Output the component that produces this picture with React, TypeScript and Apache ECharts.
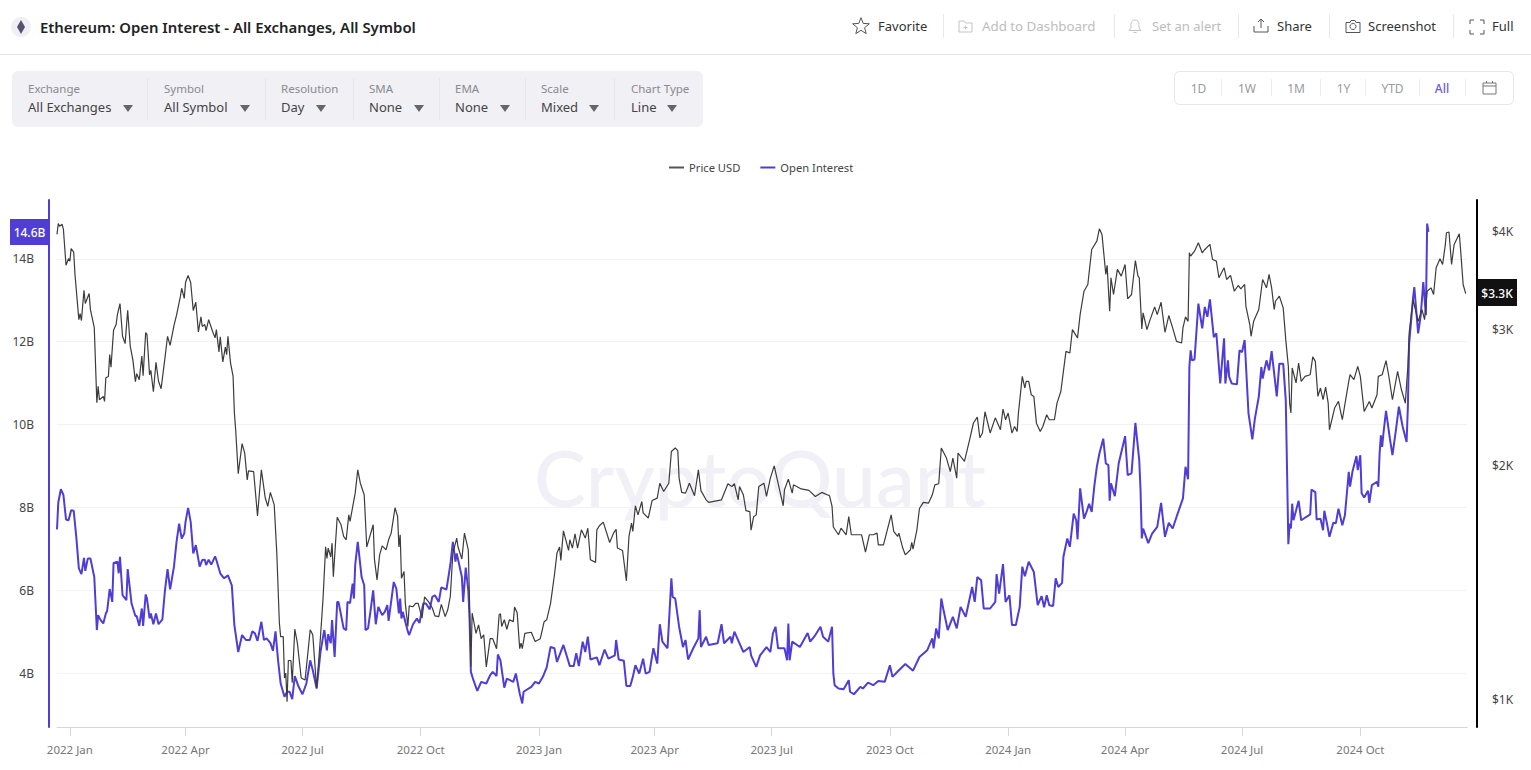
import React, { useEffect, useRef } from "react";
import * as echarts from "echarts";

const START = Date.UTC(2021, 11, 22);
const DAY = 86400000;
const END_DAY = 1097;

const priceDays = [0,1,2,4,5,7,9,10,11,13,14,17,18,19,21,22,25,26,29,31,32,33,36,37,38,40,41,42,44,46,47,49,51,53,55,57,59,61,62,64,66,67,69,70,72,73,75,77,79,81,84,86,88,91,93,96,97,99,100,102,104,106,108,110,112,113,115,116,118,121,123,124,126,127,129,131,132,133,135,137,138,139,141,144,146,148,149,153,156,159,162,164,166,169,171,173,174,176,177,178,179,180,182,183,185,187,190,193,195,197,199,202,205,207,209,210,211,213,214,215,218,221,223,225,227,228,230,232,234,236,239,241,243,246,247,249,251,253,256,258,260,263,265,266,267,268,270,271,273,274,277,279,281,284,286,289,292,294,297,299,302,304,306,308,311,312,315,317,320,321,322,323,326,328,330,332,334,337,339,342,344,345,346,348,350,352,355,356,358,360,361,362,364,369,372,376,379,381,384,387,389,391,392,394,398,399,401,403,405,408,411,413,415,419,420,422,425,430,433,435,436,440,443,445,447,448,450,452,455,456,460,463,467,469,472,476,478,481,483,484,486,489,492,496,499,501,505,507,517,522,525,527,530,531,534,536,539,540,542,544,546,550,552,555,558,561,565,566,569,572,573,579,585,590,595,601,603,604,608,610,614,616,618,626,629,632,635,638,639,643,646,649,651,654,655,658,660,664,665,666,669,671,674,678,681,683,686,688,692,695,697,700,701,706,710,713,716,718,720,722,726,730,734,736,738,740,743,745,747,748,751,753,754,756,758,760,762,765,767,770,772,776,778,781,783,785,788,790,794,796,799,802,805,809,811,813,816,817,819,820,822,825,828,831,833,836,839,841,842,844,845,848,850,854,856,859,862,865,868,871,875,876,878,880,881,882,885,888,891,893,897,899,902,904,908,910,913,916,919,921,924,925,928,929,931,935,938,941,943,945,947,948,951,954,956,958,959,960,961,964,966,968,971,975,977,979,981,983,985,987,989,990,994,997,1000,1005,1006,1009,1012,1014,1017,1021,1023,1027,1028,1031,1034,1036,1039,1043,1046,1049,1051,1052,1055,1059,1062,1064,1066,1069,1071,1073,1076,1078,1080,1081,1083,1085,1087,1091,1092,1094,1096];
const priceValues = [3970,4100,4068,4090,4029,3623,3697,3667,3808,3767,3526,3085,3140,3076,3365,3235,3332,3178,3013,2411,2531,2433,2457,2421,2597,2607,2781,2679,2989,3040,3131,3235,2936,2873,3172,2850,2740,2567,2628,2582,2769,2613,2969,2951,2620,2654,2491,2718,2570,2514,2754,2936,2858,3031,3125,3304,3385,3284,3443,3516,3443,3169,3247,2974,3110,3022,3040,2986,3085,2980,2922,2995,2803,2931,2722,2844,2781,2936,2714,2607,2341,2226,1954,2136,2079,1919,1971,1966,1725,1977,1820,1774,1849,1782,1546,1257,1206,1206,1067,1083,995,1124,1124,1052,1233,1184,1067,1061,1142,1231,1213,1035,1206,1352,1574,1521,1568,1527,1591,1440,1718,1680,1623,1607,1730,1697,1770,1845,1977,1900,1836,1573,1615,1680,1515,1427,1537,1578,1560,1607,1639,1767,1721,1573,1631,1434,1463,1331,1243,1321,1318,1331,1331,1274,1357,1338,1313,1283,1280,1327,1280,1306,1359,1545,1615,1573,1518,1639,1560,1331,1103,1293,1218,1249,1199,1213,1103,1199,1199,1164,1287,1291,1243,1268,1233,1268,1261,1317,1295,1164,1183,1164,1218,1222,1189,1199,1261,1268,1331,1448,1545,1573,1512,1650,1557,1607,1568,1636,1568,1655,1615,1663,1515,1503,1655,1675,1693,1594,1639,1658,1568,1557,1423,1623,1688,1647,1777,1730,1800,1740,1714,1805,1818,1900,1854,1900,2087,2109,2093,1929,1849,1845,1900,1831,1977,1859,1809,1795,1809,1897,1881,1897,1809,1881,1836,1752,1747,1653,1721,1730,1881,1900,1827,1929,2000,1900,1777,1864,1923,1845,1891,1868,1860,1827,1849,1831,1774,1669,1631,1663,1631,1721,1631,1631,1549,1631,1631,1639,1583,1583,1655,1730,1647,1623,1639,1568,1537,1560,1595,1563,1655,1763,1795,1791,1836,1891,1897,2109,2047,1966,2047,1929,2078,2027,2161,2271,2311,2174,2205,2348,2205,2306,2226,2367,2293,2339,2204,2248,2215,2339,2607,2519,2569,2569,2469,2457,2270,2215,2248,2327,2293,2293,2409,2493,2646,2808,2794,2995,2922,3131,3355,3423,3797,3892,4037,3970,3526,3622,3162,3492,3323,3579,3509,3632,3281,3323,3675,3509,3492,3001,3147,2995,3069,3203,3131,3247,2971,3122,3010,2892,2878,3010,3110,3069,3760,3723,3778,3873,3760,3797,3854,3686,3668,3492,3597,3474,3516,3355,3413,3379,3423,3209,3040,2936,3069,3178,3474,3389,3526,3389,3178,3257,3307,3194,2907,2686,2409,2339,2673,2557,2713,2569,2607,2620,2762,2726,2457,2519,2433,2526,2409,2226,2374,2421,2293,2569,2620,2582,2686,2607,2350,2421,2374,2469,2607,2620,2732,2620,2433,2646,2506,2409,2686,2965,3274,3069,3178,3085,3355,3389,3323,3597,3694,3632,3835,3990,3998,3632,3854,3978,3797,3423,3332];

const oiDays = [0,1,3,5,7,9,11,13,15,17,19,21,22,24,26,29,31,32,34,36,38,39,41,43,44,47,48,49,51,54,55,58,61,62,64,66,67,69,70,72,73,75,77,79,82,84,86,88,91,93,95,97,99,100,102,104,106,108,111,113,115,116,118,120,123,124,127,130,133,136,138,141,144,147,150,152,154,156,159,161,163,166,168,170,172,174,177,179,181,183,185,188,191,194,197,199,202,205,207,208,210,211,213,214,216,218,219,223,225,226,228,230,231,232,234,237,239,240,242,244,246,248,250,253,255,257,258,262,264,266,267,268,269,273,274,277,280,282,285,287,290,292,294,297,299,303,306,308,310,311,315,316,318,320,321,322,324,327,330,334,337,339,342,343,345,348,350,355,357,360,362,363,369,372,375,378,381,384,387,389,394,399,402,404,406,409,411,413,415,420,422,426,429,434,435,437,441,443,446,448,450,453,456,458,461,464,467,469,471,475,478,479,481,484,487,489,491,495,499,500,501,505,507,514,517,519,524,525,527,531,534,539,540,544,547,552,555,557,559,561,566,568,569,570,572,578,584,586,590,594,596,600,603,604,605,608,612,616,617,620,625,627,631,635,639,644,648,650,655,660,666,671,677,681,682,684,686,688,690,693,697,700,703,707,712,714,716,719,721,726,730,731,733,736,738,741,743,746,749,751,753,756,760,763,766,768,770,772,775,777,779,782,783,786,788,791,793,794,796,799,801,803,805,807,809,811,814,816,818,819,820,823,826,831,833,836,839,842,843,844,845,849,852,856,859,862,865,868,871,876,878,880,881,882,883,885,888,891,893,895,897,900,902,905,908,909,911,912,914,918,920,922,924,927,930,932,935,937,938,941,943,945,949,951,954,956,957,958,959,960,961,962,966,968,975,976,979,980,983,985,986,988,990,993,995,997,1000,1002,1004,1005,1006,1008,1011,1012,1014,1015,1017,1020,1021,1023,1027,1028,1029,1030,1031,1032,1034,1037,1039,1042,1044,1047,1050,1051,1052,1055,1056,1059,1061,1063,1065,1066,1067];
const oiValues = [7.47,8.12,8.44,8.30,7.71,7.69,7.93,7.92,7.29,6.53,6.39,6.78,6.47,6.77,6.77,6.32,5.04,5.40,5.28,5.20,5.44,5.50,6.03,5.72,6.66,6.69,6.41,6.81,5.88,5.76,6.51,5.68,5.38,5.38,5.14,5.56,5.14,5.90,5.80,5.32,5.44,5.18,5.44,5.18,5.30,6.00,6.51,6.02,6.57,7.17,7.61,7.25,7.37,7.65,7.99,7.65,6.89,7.09,6.57,6.73,6.74,6.61,6.74,6.62,6.82,6.73,6.41,6.29,6.36,6.12,5.16,4.51,4.92,4.80,4.80,5.01,4.96,4.78,5.24,4.80,4.84,4.73,4.54,5.01,4.31,3.75,3.43,3.55,3.55,3.37,3.93,3.67,3.49,3.75,4.31,4.07,3.63,4.51,4.88,5.04,4.55,4.94,4.72,5.28,4.39,5.72,5.72,5.08,5.04,5.72,5.69,6.16,5.80,6.61,7.17,6.32,6.12,5.04,5.08,5.52,6.00,5.18,5.60,5.40,5.48,5.64,5.26,6.20,6.04,5.44,5.80,5.32,5.48,5.00,4.92,5.18,5.32,5.21,5.68,5.68,5.54,5.84,5.88,5.72,6.07,6.02,6.61,7.17,6.69,6.89,6.32,5.72,6.55,6.00,5.28,4.03,3.83,3.57,3.79,3.75,3.95,4.03,3.93,4.45,4.31,3.65,3.87,3.79,3.99,3.51,3.27,3.55,3.67,3.79,3.75,3.91,4.14,4.63,4.60,4.27,4.68,4.17,4.17,4.48,4.17,4.76,4.51,4.88,4.33,4.38,4.19,4.57,4.35,4.43,4.80,4.33,4.30,3.69,3.69,3.91,4.19,3.99,4.35,3.99,4.03,4.60,4.23,5.18,4.76,4.60,6.29,5.84,5.80,5.12,4.63,4.80,4.33,4.60,4.84,5.52,4.63,4.88,4.68,4.72,5.18,4.72,4.88,4.72,5.00,4.72,4.51,4.63,4.43,4.15,4.43,4.63,4.51,4.96,5.12,4.60,4.60,4.31,5.20,4.31,4.76,4.63,4.97,4.76,4.92,5.12,4.88,4.76,5.12,3.99,3.71,3.63,3.61,3.83,3.55,3.49,3.67,3.63,3.77,3.71,3.81,3.79,4.19,3.91,4.07,4.22,4.06,4.39,4.55,4.84,4.60,5.08,4.84,5.80,5.48,5.04,5.36,5.08,5.60,5.36,6.08,5.72,6.32,6.24,5.56,5.56,5.72,6.39,5.92,6.63,5.72,5.88,5.16,5.16,5.60,6.57,6.34,6.69,6.44,5.64,5.86,5.59,5.88,5.64,5.62,6.29,6.08,6.18,6.81,7.25,7.05,7.85,7.69,7.23,8.46,7.73,7.89,8.09,7.89,8.50,8.98,9.30,9.66,9.06,9.02,8.16,8.58,8.27,9.06,9.72,8.78,8.82,10.04,9.14,8.42,7.25,7.49,7.14,7.37,7.53,8.11,7.29,7.63,7.49,7.77,8.22,8.98,8.68,11.39,11.79,11.55,11.57,12.92,12.32,12.84,12.60,13.02,12.11,12.20,10.99,12.08,10.99,11.55,11.15,10.99,10.97,11.79,11.75,12.04,10.27,9.64,10.15,10.67,11.39,11.11,11.55,11.31,11.77,10.68,11.47,11.47,10.59,8.90,7.11,7.61,7.49,8.09,7.69,8.16,7.69,7.83,8.43,8.37,7.71,7.73,7.45,7.92,7.62,7.29,7.63,7.62,7.97,7.57,7.81,8.50,8.86,8.50,8.88,9.24,8.90,9.26,8.34,8.24,8.40,8.11,8.54,8.62,8.50,9.30,9.74,9.46,9.79,10.33,9.66,9.26,9.94,10.43,9.94,9.58,10.43,11.96,13.04,13.32,12.20,12.64,13.44,12.64,14.85,14.65];

const quarterTicks = [[2022,0],[2022,3],[2022,6],[2022,9],[2023,0],[2023,3],[2023,6],[2023,9],[2024,0],[2024,3],[2024,6],[2024,9]];
const monthNames = ["Jan","Feb","Mar","Apr","May","Jun","Jul","Aug","Sep","Oct","Nov","Dec"];
const oiTicks = [4, 6, 8, 10, 12, 14];
const priceTicks = [1000, 2000, 3000, 4000];

const filterLabels = ["Exchange","Symbol","Resolution","SMA","EMA","Scale","Chart Type"];
const filterValues = ["All Exchanges","All Symbol","Day","None","None","Mixed","Line"];
const rangeLabels = ["1D","1W","1M","1Y","YTD","All"];

const FONT = "'Noto Sans', sans-serif";
const PURPLE = "#4f3dd6";

echarts.graphic.registerShape("bellIcon", echarts.graphic.extendPath("M7 1C4.5 1 3 3 3 5.5V9L1 11.5H13L11 9V5.5C11 3 9.5 1 7 1ZM5.5 13.5H8.5", {}));
echarts.graphic.registerShape("shareIcon", echarts.graphic.extendPath("M1 8V14H15V8M8 10V1M5 4L8 1L11 4", {}));
echarts.graphic.registerShape("cameraIcon", echarts.graphic.extendPath("M1 3.5H5L6 1.5H10L11 3.5H15V13.5H1Z", {}));
echarts.graphic.registerShape("fullIcon", echarts.graphic.extendPath("M1 5V1H5M11 1H15V5M15 11V15H11M5 15H1V11", {}));
echarts.graphic.registerShape("folderIcon", echarts.graphic.extendPath("M1 2H6L7.5 4H14V13H1ZM7.5 6.5V10.5M5.5 8.5H9.5", {}));
echarts.graphic.registerShape("calIcon", echarts.graphic.extendPath("M1 3H14V14H1ZM1 6H14M4.5 1V3M10.5 1V3", {}));

const txt = (x: number, y: number, text: string, fontSize: number, fill: string, extra: any = {}) => ({
  type: "text", x, y, silent: true,
  style: { text, fontSize, fill, fontFamily: FONT, verticalAlign: "middle", ...extra },
});
const vline = (x: number, y1: number, y2: number, stroke: string) => ({
  type: "line", shape: { x1: x, y1, x2: x, y2 }, style: { stroke, lineWidth: 1 }, silent: true,
});
const tri = (cx: number, cy: number) => ({
  type: "polygon", shape: { points: [[cx - 5, cy - 3], [cx + 5, cy - 3], [cx, cy + 4]] }, style: { fill: "#666" }, silent: true,
});
const icon = (type: string, x: number, y: number, stroke: string) => ({
  type, x, y, style: { stroke, fill: "none", lineWidth: 1 }, silent: true,
});

function buildGraphics() {
  const g: any[] = [];
  g.push({ type: "text", x: 760, y: 477, z: -1, silent: true, style: { text: "CryptoQuant", fontSize: 78, fill: "#f0f0f6", fontFamily: "Lato, sans-serif", align: "center", verticalAlign: "middle", fontWeight: 500 } });
  g.push({ type: "line", shape: { x1: 0, y1: 54.5, x2: 1531, y2: 54.5 }, style: { stroke: "#e4e4e4", lineWidth: 1 }, silent: true });
  g.push({ type: "circle", shape: { cx: 21, cy: 27, r: 10 }, style: { fill: "#f0f0f4" }, silent: true });
  g.push({ type: "polygon", shape: { points: [[21, 20], [25, 27], [21, 34], [17, 27]] }, style: { fill: "#53536f" }, silent: true });
  g.push(txt(40, 26.5, "Ethereum: Open Interest - All Exchanges, All Symbol", 14.9, "#222", { fontWeight: 600 }));

  const star: number[][] = [];
  for (let i = 0; i < 10; i++) {
    const r = i % 2 ? 3.8 : 8.8;
    const a = -Math.PI / 2 + (i * Math.PI) / 5;
    star.push([861 + r * Math.cos(a), 26.5 + r * Math.sin(a)]);
  }
  g.push({ type: "polygon", shape: { points: star }, style: { stroke: "#555", fill: "none", lineWidth: 1 }, silent: true });
  g.push(txt(878, 26, "Favorite", 13, "#333"));
  g.push(vline(943.5, 14, 38, "#e8e8e8"));
  g.push(icon("folderIcon", 958, 19, "#c4c4c4"));
  g.push(txt(982, 26, "Add to Dashboard", 13.3, "#bdbdbd"));
  g.push(vline(1114.5, 14, 38, "#e8e8e8"));
  g.push(icon("bellIcon", 1128, 19, "#c4c4c4"));
  g.push(txt(1152, 26, "Set an alert", 13, "#bdbdbd"));
  g.push(vline(1238.5, 14, 38, "#e8e8e8"));
  g.push(icon("shareIcon", 1253, 18, "#555"));
  g.push(txt(1277, 26, "Share", 13, "#333"));
  g.push(vline(1329.5, 14, 38, "#e8e8e8"));
  g.push(icon("cameraIcon", 1345, 19, "#555"));
  g.push({ type: "circle", shape: { cx: 1353, cy: 26.5, r: 3 }, style: { stroke: "#555", fill: "none" }, silent: true });
  g.push(txt(1368, 26, "Screenshot", 13, "#333"));
  g.push(vline(1453.5, 14, 38, "#e8e8e8"));
  g.push(icon("fullIcon", 1469, 19, "#555"));
  g.push(txt(1492, 26, "Full", 13, "#333"));

  g.push({ type: "rect", shape: { x: 12, y: 71, width: 691, height: 56, r: 6 }, style: { fill: "#f0f0f5" }, silent: true });
  const colX = [28, 164, 281, 369, 455, 541, 631];
  const sepX = [147, 265, 353, 439, 525, 614];
  const arrowX = [128, 245, 321, 419, 505, 594, 672];
  filterLabels.forEach((l, i) => {
    g.push(txt(colX[i], 88, l, 11.5, "#8a8a90"));
    g.push(txt(colX[i], 107, filterValues[i], 13, "#444"));
    g.push(tri(arrowX[i], 108));
  });
  sepX.forEach((x) => g.push(vline(x + 0.5, 78, 120, "#e7e7ec")));

  g.push({ type: "rect", shape: { x: 1174.5, y: 71.5, width: 339, height: 33, r: 5 }, style: { fill: "#fff", stroke: "#e8e8ec", lineWidth: 1 }, silent: true });
  const rangeX = [1198.5, 1247, 1296, 1343.5, 1392.5, 1442];
  rangeLabels.forEach((l, i) => {
    g.push(txt(rangeX[i], 88, l, 12, l === "All" ? "#6a5cd8" : "#9a9aa0", { align: "center", fontWeight: l === "All" ? 500 : 400 }));
  });
  [1221, 1271, 1320, 1365, 1419, 1465].forEach((x) => g.push(vline(x + 0.5, 79, 96, "#ececf0")));
  g.push(icon("calIcon", 1482, 80, "#777"));

  g.push({ type: "rect", shape: { x: 10, y: 219, width: 39, height: 26 }, style: { fill: PURPLE }, silent: true });
  g.push(txt(29.5, 232, "14.6B", 12, "#fff", { align: "center", fontWeight: 500 }));
  g.push({ type: "rect", shape: { x: 1477, y: 279, width: 40, height: 27 }, style: { fill: "#111" }, silent: true });
  g.push(txt(1497, 293, "$3.3K", 12, "#fff", { align: "center", fontWeight: 500 }));
  return g;
}

export default function App() {
  const ref = useRef<HTMLDivElement>(null);
  useEffect(() => {
    document.body.style.margin = "0";
    document.body.style.overflow = "hidden";
    const chart = echarts.init(ref.current!, undefined, { renderer: "svg" });
    const tickTimes = quarterTicks.map(([y, m]) => Date.UTC(y, m, 1));
    const price = priceDays.map((d, i) => [START + d * DAY, priceValues[i]]);
    const oi = oiDays.map((d, i) => [START + d * DAY, oiValues[i]]);
    chart.setOption({
      animation: false,
      backgroundColor: "#fff",
      textStyle: { fontFamily: FONT },
      tooltip: { show: false },
      legend: {
        left: 664, top: 157, icon: "rect", itemWidth: 15, itemHeight: 2, itemGap: 20,
        textStyle: { fontSize: 11.2, color: "#444", fontFamily: FONT },
        data: ["Price USD", "Open Interest"],
      },
      grid: { left: 57, right: 64, top: 200, bottom: 43 },
      xAxis: {
        type: "value",
        min: START,
        max: START + END_DAY * DAY,
        axisLine: { lineStyle: { color: "#d6d6d6", width: 1 } },
        axisTick: { show: true, length: 9, lineStyle: { color: "#d6d6d6" }, customValues: tickTimes },
        axisLabel: {
          customValues: tickTimes, margin: 16, fontSize: 11.5, color: "#777", fontFamily: FONT, hideOverlap: false,
          formatter: (v: number) => {
            const d = new Date(v);
            return d.getUTCFullYear() + " " + monthNames[d.getUTCMonth()];
          },
        },
        splitLine: { show: false },
      },
      yAxis: [
        {
          type: "value", position: "left", offset: 8, min: 2.7, max: 15.42,
          axisLine: { show: true, lineStyle: { color: PURPLE, width: 2 } },
          axisTick: { show: false, customValues: oiTicks },
          axisLabel: { customValues: oiTicks, margin: 15, fontSize: 12, color: "#444", fontFamily: FONT, formatter: (v: number) => v + "B" },
          splitLine: { show: true, lineStyle: { color: "#f2f2f2", width: 1 } },
        },
        {
          type: "log", logBase: 10, position: "right", offset: 10, min: 923, max: 4396,
          axisLine: { show: true, lineStyle: { color: "#000", width: 2 } },
          axisTick: { show: false, customValues: priceTicks },
          axisLabel: { customValues: priceTicks, margin: 15, fontSize: 12, color: "#444", fontFamily: FONT, formatter: (v: number) => "$" + Math.round(v / 1000) + "K" },
          splitLine: { show: false },
        },
      ],
      series: [
        { name: "Price USD", type: "line", yAxisIndex: 1, data: price, showSymbol: false, symbol: "none", z: 4, lineStyle: { color: "#3c3c3c", width: 1.2 }, itemStyle: { color: "#555" } },
        { name: "Open Interest", type: "line", yAxisIndex: 0, data: oi, showSymbol: false, symbol: "none", z: 3, lineStyle: { color: PURPLE, width: 2 }, itemStyle: { color: PURPLE } },
      ],
      graphic: { elements: buildGraphics() },
    });
    return () => chart.dispose();
  }, []);
  return <div ref={ref} style={{ width: 1531, height: 770 }} />;
}
